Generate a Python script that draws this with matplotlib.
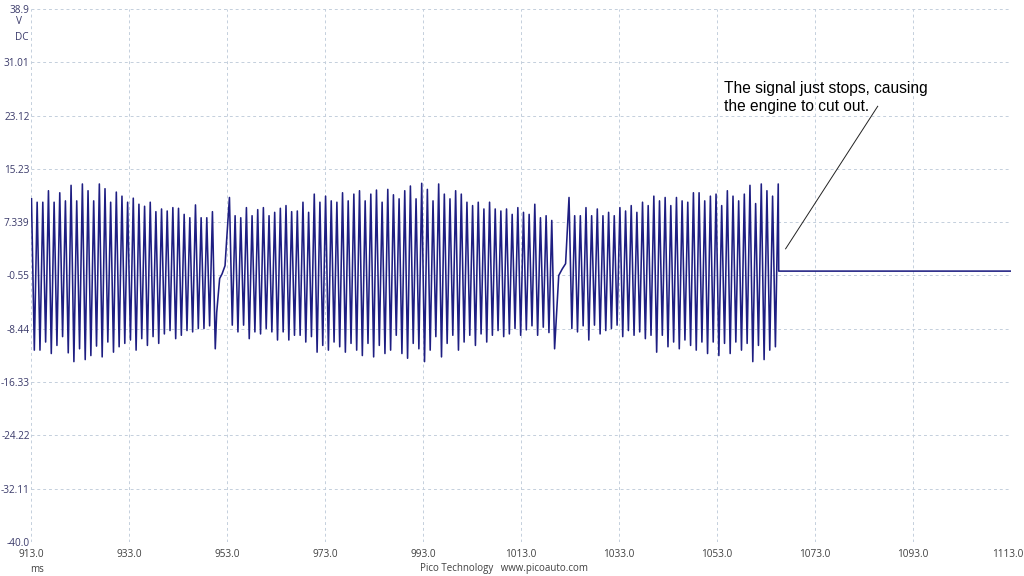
import matplotlib
matplotlib.use("Agg")
import matplotlib.pyplot as plt
import matplotlib.transforms as mtransforms
import numpy as np

# crank sensor trace
tooth_ms = 1.154  # one tooth period

seg1_start = 913.1
seg1_peaks = [10.8, 10.3, 10.3, 12.0, 10.3, 11.7, 10.5, 12.8, 10.5, 13.0, 12.0,
              10.5, 13.0, 12.3, 10.3, 11.8, 11.2, 10.3, 10.9, 10.0, 9.7, 10.3,
              8.9, 9.3, 9.0, 9.5, 9.4, 8.5, 8.0, 9.9, 8.0, 8.0, 8.9]
seg1_troughs = [-11.6, -11.6, -10.4, -12.1, -10.9, -9.6, -12.0, -13.3, -11.4, -13.0,
                -12.4, -11.0, -12.6, -10.4, -11.9, -11.1, -10.6, -10.1, -11.6, -9.9,
                -10.9, -9.6, -10.6, -9.2, -8.7, -9.9, -9.4, -8.7, -8.9, -8.4, -8.4,
                -8.0, -11.4]

# missing-tooth gap 1
gap1_t = [950.9, 951.5, 952.0, 952.6, 952.9]
gap1_v = [-6.0, -1.0, -0.3, 0.9, 4.4]

seg2_start = 953.5
seg2_peaks = [11.0, 8.3, 8.0, 9.5, 8.3, 9.2, 9.5, 8.3, 8.8, 9.4, 9.8, 8.9, 9.0, 10.3,
              8.8, 11.5, 10.3, 11.2, 10.5, 10.3, 11.7, 10.5, 11.5, 12.0, 10.5, 11.5,
              12.1, 10.3, 12.2, 11.4,
              10.8, 12.0, 12.7, 10.8, 13.1, 12.2, 10.5, 13.0, 11.5, 10.8, 12.0, 11.5,
              10.3, 9.8, 10.3, 9.3, 10.3, 9.3, 9.0, 9.3, 8.5, 9.5, 8.8, 8.5, 10.0,
              8.0, 8.3, 7.6]
seg2_troughs = [-7.9, -8.9, -7.9, -9.9, -8.9, -9.2, -8.4, -8.9, -10.1, -8.9, -10.1,
                -9.4, -9.4, -10.4, -9.6, -11.9, -10.9, -11.6, -10.4, -11.1, -11.9,
                -10.6, -11.6, -12.4, -10.6, -12.6, -10.9, -12.1, -11.6, -9.4,
                -12.1, -12.8, -10.6, -11.4, -13.3, -11.6, -9.6, -12.6, -10.6, -9.4,
                -11.6, -10.4, -9.4, -10.9, -9.2, -10.4, -9.4, -8.7, -9.6, -9.2, -8.4,
                -9.4, -8.6, -8.0, -9.4, -8.2, -9.0, -11.4]

# missing-tooth gap 2
gap2_t = [1020.7, 1021.4, 1022.1, 1022.4]
gap2_v = [-0.55, 0.4, 1.2, 5.3]

seg3_start = 1022.8
seg3_peaks = [11.0, 8.3, 8.3, 9.5, 8.3, 9.3, 8.3, 8.8, 8.3, 9.5, 9.0, 9.8, 8.8, 10.3,
              9.8, 11.2, 10.5, 11.0, 9.8, 11.0, 10.5, 10.3, 11.7, 11.7, 10.5, 11.2,
              11.5, 9.8, 12.0, 11.2, 10.5, 11.5, 12.8, 10.1, 13.0, 12.0, 11.2, 13.0]
seg3_troughs = [-8.4, -8.9, -8.0, -10.1, -7.9, -9.2, -8.7, -8.4, -7.9, -9.6, -8.7,
                -9.4, -8.9, -9.9, -9.4, -11.9, -9.4, -11.1, -10.4, -11.4, -10.1,
                -10.9, -11.6, -10.4, -12.1, -10.4, -12.4, -10.6, -12.1, -10.4, -11.6,
                -10.6, -13.3, -10.9, -13.0, -11.6, -11.1]

# signal dead after the last tooth
flat_t = [1065.6, 1113.0]
flat_v = [0.1, 0.1]

x_ticks = [913, 933, 953, 973, 993, 1013, 1033, 1053, 1073, 1093, 1113]
y_ticks = [38.9, 31.01, 23.12, 15.23, 7.339, -0.55, -8.44, -16.33, -24.22, -32.11, -40.0]
y_labels = ["38.9", "31.01", "23.12", "15.23", "7.339", "-0.55", "-8.44",
            "-16.33", "-24.22", "-32.11", "-40.0"]


def teeth(start, peaks, troughs):
    t, v = [], []
    for i, p in enumerate(peaks):
        t.append(start + i * tooth_ms)
        v.append(p)
        if i < len(troughs):
            t.append(start + i * tooth_ms + tooth_ms / 2)
            v.append(troughs[i])
    return t, v


t1, v1 = teeth(seg1_start, seg1_peaks, seg1_troughs)
t2, v2 = teeth(seg2_start, seg2_peaks, seg2_troughs)
t3, v3 = teeth(seg3_start, seg3_peaks, seg3_troughs)
t_all = t1 + gap1_t + t2 + gap2_t + t3 + flat_t
v_all = v1 + gap1_v + v2 + gap2_v + v3 + flat_v

fig = plt.figure(figsize=(10.24, 5.76), dpi=100)
ax = fig.add_axes([31 / 1024, 34 / 576, 980 / 1024, 533 / 576])

ax.plot(t_all, v_all, color="#1e1e82", lw=1.15)

ax.set_xlim(913, 1113)
ax.set_ylim(-40, 38.9)
ax.set_xticks(x_ticks)
ax.set_xticklabels([f"{x:.1f}" for x in x_ticks])
ax.set_yticks(y_ticks)
ax.set_yticklabels(y_labels)
ax.tick_params(length=0, labelsize=7.2, labelcolor="#3a3a6a", pad=1)
ax.tick_params(axis="x", labelsize=7.2, labelcolor="#404040", pad=5)
for lab in ax.get_xticklabels() + ax.get_yticklabels():
    lab.set_family("Open Sans")
# keep the last x label inside the picture
last = ax.get_xticklabels()[-1]
last.set_transform(last.get_transform() +
                   mtransforms.ScaledTranslation(-3 / 100, 0, fig.dpi_scale_trans))

ax.grid(True, color="#c4cfdc", linestyle=(0, (3, 3)), lw=0.7)
for sp in ax.spines.values():
    sp.set_visible(False)

# annotation
ax.text(1054.4, 28.3, "The signal just stops, causing\nthe engine to cut out.",
        family="Liberation Sans", fontsize=11.2, color="black",
        ha="left", va="top", linespacing=1.3)
ax.plot([1085.8, 1067.0], [24.5, 3.4], color="#222222", lw=0.7)

# unit labels and footer
fig.text(19 / 1024, 1 - 22 / 576, "V", fontsize=7.2, color="#3a3a6a",
         ha="center", va="center", family="Open Sans")
fig.text(28 / 1024, 1 - 37 / 576, "DC", fontsize=7.2, color="#3a3a6a",
         ha="right", va="center", family="Open Sans")
fig.text(37 / 1024, 1 - 569 / 576, "ms", fontsize=7, color="#404040",
         ha="center", va="center", family="Open Sans")
fig.text(504 / 1024, 1 - 569 / 576, "Pico Technology   www.picoauto.com",
         fontsize=7, color="#404040", ha="center", va="center", family="Open Sans")

fig.savefig("out.png", dpi=100, facecolor="white")
